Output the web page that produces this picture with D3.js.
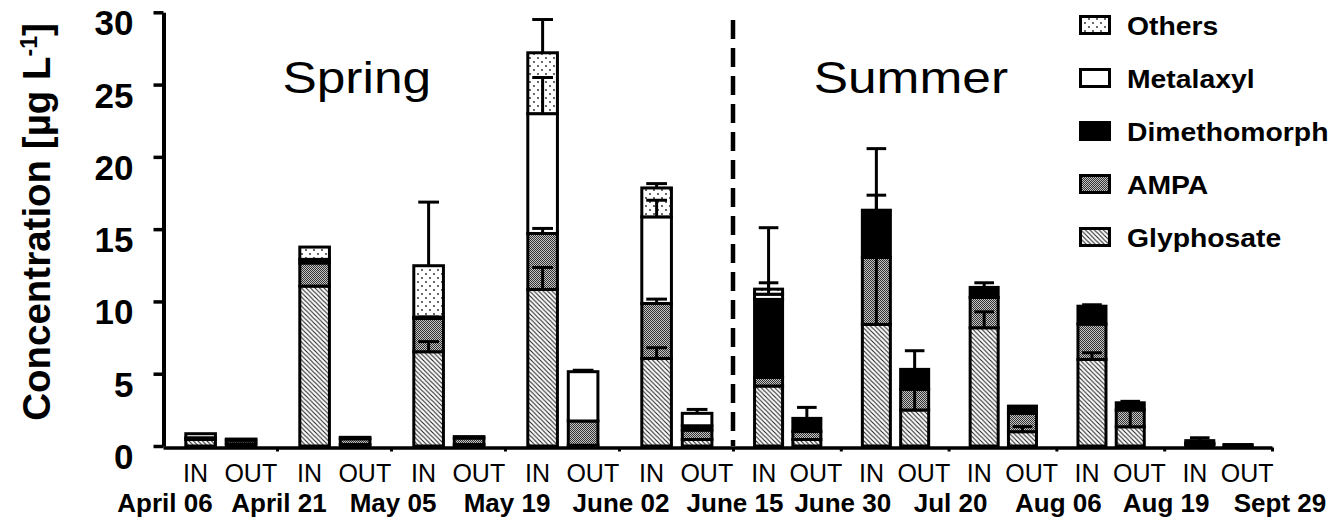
<!DOCTYPE html>
<html>
<head>
<meta charset="utf-8">
<script src="https://cdnjs.cloudflare.com/ajax/libs/d3/7.8.5/d3.min.js"></script>
<style>
  body { margin: 0; background: #fff; }
  svg { display: block; font-family: "Liberation Sans", Arial, Helvetica, sans-serif; }
</style>
</head>
<body>
<div id="chart"></div>
<script>
// sampling dates are the period boundaries, one IN / OUT pair per period
var dates = ["April 06", "April 21", "May 05", "May 19", "June 02", "June 15",
             "June 30", "Jul 20", "Aug 06", "Aug 19", "Sept 29"];
var sites = ["IN", "OUT"];
var seasons = ["Spring", "Summer"];
var springPeriods = 5;
var compounds = ["Glyphosate", "AMPA", "Dimethomorph", "Metalaxyl", "Others"];
var yTicks = [0, 5, 10, 15, 20, 25, 30];

// mean concentration [µg/L] per period, inlet
var glyphosateIn = [0.45, 11.06, 6.52, 10.83, 6.06, 4.15, 8.41, 8.18, 5.99, 0.10];
var ampaIn       = [0.12, 1.60, 2.30, 3.87, 3.80, 0.60, 4.63, 2.10, 2.44, 0.05];
var dimethIn     = [0, 0.25, 0.10, 0, 0, 5.39, 3.27, 0.69, 1.24, 0.05];
var metalaxylIn  = [0.28, 0, 0, 8.29, 5.99, 0.36, 0, 0, 0, 0.17];
var othersIn     = [0, 0.85, 3.55, 4.21, 2.00, 0.35, 0, 0, 0, 0];

// outlet
var glyphosateOut = [0.15, 0.10, 0.10, 0.05, 0.45, 0.45, 2.49, 0.99, 1.33, 0.05];
var ampaOut       = [0.25, 0.40, 0.45, 1.68, 0.65, 0.55, 1.43, 1.27, 1.16, 0.05];
var dimethOut     = [0.08, 0.10, 0.10, 0, 0.30, 0.91, 1.38, 0.50, 0.50, 0];
var metalaxylOut  = [0, 0, 0, 3.41, 0.86, 0, 0, 0, 0, 0];
var othersOut     = [0, 0, 0, 0, 0, 0, 0, 0, 0, 0];

// upper error (SD), 0 = none
var glyphosateInErr = [0, 0, 0.70, 1.52, 0.74, 0, 5.20, 1.10, 0.46, 0];
var ampaInErr       = [0, 0, 0.10, 0.35, 0.30, 0, 4.31, 0, 0, 0];
var dimethInErr     = [0, 0, 0, 0, 0, 0, 4.26, 0.32, 0.10, 0];
var metalaxylInErr  = [0, 0, 0, 2.50, 1.15, 0.79, 0, 0, 0, 0.20];
var othersInErr     = [0, 0, 4.40, 2.30, 0.30, 4.25, 0, 0, 0, 0];

var glyphosateOutErr = [0, 0, 0, 0, 0, 0, 1.60, 0.35, 1.20, 0];
var ampaOutErr       = [0, 0, 0, 0, 0, 0, 0, 0, 0, 0];
var dimethOutErr     = [0, 0, 0, 0, 0, 0.76, 1.29, 0, 0.10, 0];
var metalaxylOutErr  = [0, 0, 0, 0.10, 0.27, 0, 0, 0, 0, 0];
var othersOutErr     = [0, 0, 0, 0, 0, 0, 0, 0, 0, 0];

var valuesIn  = {Glyphosate: glyphosateIn, AMPA: ampaIn, Dimethomorph: dimethIn, Metalaxyl: metalaxylIn, Others: othersIn};
var valuesOut = {Glyphosate: glyphosateOut, AMPA: ampaOut, Dimethomorph: dimethOut, Metalaxyl: metalaxylOut, Others: othersOut};
var errIn  = {Glyphosate: glyphosateInErr, AMPA: ampaInErr, Dimethomorph: dimethInErr, Metalaxyl: metalaxylInErr, Others: othersInErr};
var errOut = {Glyphosate: glyphosateOutErr, AMPA: ampaOutErr, Dimethomorph: dimethOutErr, Metalaxyl: metalaxylOutErr, Others: othersOutErr};

var width = 1337, height = 523;
var nPeriods = dates.length - 1;

var rows = [];
for (var p = 0; p < nPeriods; p++) {
  sites.forEach(function(s) {
    var src = s == "IN" ? valuesIn : valuesOut;
    var row = {period: p, site: s};
    compounds.forEach(function(c) { row[c] = src[c][p]; });
    rows.push(row);
  });
}
var stacked = d3.stack().keys(compounds)(rows);

// spring half of the axis is a bit wider than the summer half
var x = d3.scaleLinear().domain([0, springPeriods, nPeriods]).range([163, 733, 1272]);
var inner = d3.scaleBand().domain(sites).range([0.2, 0.815]).paddingInner(0.268);
var y = d3.scaleLinear().domain([0, 30]).range([446, 12.3]);

function periodW(p) { return x(p + 1) - x(p); }
function barX(d) { return x(d.period) + inner(d.site) * periodW(d.period); }
function barW(d) { return inner.bandwidth() * periodW(d.period); }

var svg = d3.select("#chart").append("svg")
  .attr("width", width)
  .attr("height", height);

// fill patterns
var defs = svg.append("defs");

var hatch = defs.append("pattern").attr("id", "hatch")
  .attr("patternUnits", "userSpaceOnUse").attr("width", 4.5).attr("height", 4.5);
hatch.append("rect").attr("width", 4.5).attr("height", 4.5).attr("fill", "#fff");
hatch.append("path").attr("d", "M-1,-1L5.5,5.5M-1,3.5L1,5.5M3.5,-1L5.5,1")
  .attr("stroke", "#222").attr("stroke-width", 1.1);

var grey = defs.append("pattern").attr("id", "grey")
  .attr("patternUnits", "userSpaceOnUse").attr("width", 2).attr("height", 2);
grey.append("rect").attr("width", 2).attr("height", 2).attr("fill", "#c4c4c4");
grey.append("rect").attr("width", 1).attr("height", 1).attr("fill", "#333");
grey.append("rect").attr("x", 1).attr("y", 1).attr("width", 1).attr("height", 1).attr("fill", "#333");

var dots = defs.append("pattern").attr("id", "dots")
  .attr("patternUnits", "userSpaceOnUse").attr("width", 8).attr("height", 8);
dots.append("rect").attr("width", 8).attr("height", 8).attr("fill", "#fff");
dots.append("circle").attr("cx", 2).attr("cy", 2).attr("r", 0.9).attr("fill", "#222");
dots.append("circle").attr("cx", 6).attr("cy", 6).attr("r", 0.9).attr("fill", "#222");

var fills = {
  Glyphosate: "url(#hatch)",
  AMPA: "url(#grey)",
  Dimethomorph: "#000",
  Metalaxyl: "#fff",
  Others: "url(#dots)"
};

// stacked bars
var layers = svg.append("g")
  .selectAll("g")
  .data(stacked)
  .enter()
  .append("g")
  .attr("fill", function(d) { return fills[d.key]; });

layers.selectAll("rect")
  .data(function(d) { return d.filter(function(s) { return s[1] - s[0] > 0; }); })
  .enter()
  .append("rect")
  .attr("x", function(d) { return barX(d.data); })
  .attr("width", function(d) { return barW(d.data); })
  .attr("y", function(d) { return y(d[1]); })
  .attr("height", function(d) { return y(d[0]) - y(d[1]); })
  .attr("stroke", "#000")
  .attr("stroke-width", 3);

// error bars (upper only)
var errs = [];
stacked.forEach(function(layer) {
  layer.forEach(function(seg) {
    var e = (seg.data.site == "IN" ? errIn : errOut)[layer.key][seg.data.period];
    if (e > 0) errs.push({row: seg.data, top: seg[1], err: e});
  });
});

var eb = svg.append("g")
  .selectAll("g")
  .data(errs)
  .enter()
  .append("g")
  .attr("stroke", "#000")
  .attr("stroke-width", 3);

eb.append("line")
  .attr("x1", function(d) { return barX(d.row) + barW(d.row) / 2; })
  .attr("x2", function(d) { return barX(d.row) + barW(d.row) / 2; })
  .attr("y1", function(d) { return y(d.top); })
  .attr("y2", function(d) { return y(d.top + d.err); });

eb.append("line")
  .attr("x1", function(d) { return barX(d.row) + barW(d.row) * 0.15; })
  .attr("x2", function(d) { return barX(d.row) + barW(d.row) * 0.85; })
  .attr("y1", function(d) { return y(d.top + d.err); })
  .attr("y2", function(d) { return y(d.top + d.err); });

// season divider
svg.append("line")
  .attr("x1", x(springPeriods)).attr("x2", x(springPeriods))
  .attr("y1", 20).attr("y2", y(0))
  .attr("stroke", "#000")
  .attr("stroke-width", 4.5)
  .attr("stroke-dasharray", "19,9");

// axes
var yAxis = svg.append("g")
  .attr("transform", "translate(163.5,0)")
  .call(d3.axisLeft(y).tickValues(yTicks).tickSize(10).tickSizeOuter(0).tickPadding(20));
yAxis.attr("font-family", null).attr("font-size", null);
yAxis.select(".domain").attr("stroke-width", 4);
yAxis.selectAll(".tick line").attr("stroke-width", 3.5);
yAxis.selectAll(".tick text")
  .attr("dy", null)
  .attr("y", 22.5)
  .attr("font-size", 35)
  .attr("font-weight", "bold")
  .attr("fill", "#000");

var xAxis = svg.append("g")
  .attr("transform", "translate(0,447.5)")
  .call(d3.axisBottom(x).tickValues(d3.range(1, nPeriods + 1)).tickSize(4).tickSizeOuter(0).tickFormat(""));
xAxis.select(".domain").attr("stroke-width", 3.5);
xAxis.selectAll(".tick line").attr("stroke-width", 3);

// IN / OUT labels
svg.append("g")
  .selectAll("text")
  .data(rows)
  .enter()
  .append("text")
  .attr("x", function(d) { return x(d.period) + periodW(d.period) * (d.site == "IN" ? 0.285 : 0.77); })
  .attr("y", 482)
  .attr("text-anchor", "middle")
  .attr("font-size", 25)
  .text(function(d) { return d.site; });

// dates at the period boundaries
svg.append("g")
  .selectAll("text")
  .data(dates)
  .enter()
  .append("text")
  .attr("x", function(d, i) { return x(i) + (i == nPeriods ? 8 : 2); })
  .attr("y", 512)
  .attr("text-anchor", "middle")
  .attr("font-size", 26)
  .attr("font-weight", "bold")
  .text(function(d) { return d; });

// season labels
svg.append("g")
  .selectAll("text")
  .data(seasons)
  .enter()
  .append("text")
  .attr("transform", function(d, i) {
    var cx = i == 0 ? x(1.7) : x(springPeriods + 1.65);
    return "translate(" + cx + ",93) scale(1.17,1)";
  })
  .attr("text-anchor", "middle")
  .attr("font-size", 44)
  .text(function(d) { return d; });

// y title
var title = svg.append("text")
  .attr("transform", "translate(50,222) rotate(-90)")
  .attr("text-anchor", "middle")
  .attr("font-size", 38.5)
  .attr("font-weight", "bold")
  .text("Concentration [µg L");
title.append("tspan").attr("baseline-shift", "super").attr("font-size", 23).text("-1");
title.append("tspan").text("]");

// legend, top entry = top of stack
var legend = svg.append("g")
  .selectAll("g")
  .data(compounds.slice().reverse())
  .enter()
  .append("g")
  .attr("transform", function(d, i) { return "translate(1079," + (25 + i * 53) + ")"; });

legend.append("rect")
  .attr("x", 1.5)
  .attr("y", -8.5)
  .attr("width", 29)
  .attr("height", 17)
  .attr("fill", function(d) { return fills[d]; })
  .attr("stroke", "#000")
  .attr("stroke-width", 3);

legend.append("text")
  .attr("transform", "translate(48,9.5) scale(1.09,1)")
  .attr("font-size", 26)
  .attr("font-weight", "bold")
  .text(function(d) { return d; });
</script>
</body>
</html>
